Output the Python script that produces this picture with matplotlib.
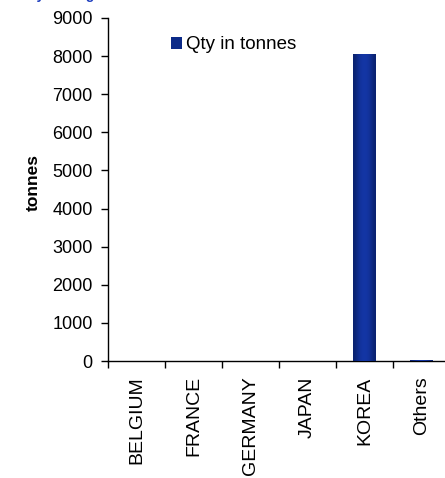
import numpy as np
import matplotlib
matplotlib.use("Agg")
import matplotlib.pyplot as plt
from matplotlib.patches import Rectangle

# data
countries = ["BELGIUM", "FRANCE", "GERMANY", "JAPAN", "KOREA", "Others"]
qty_tonnes = [12, 8, 10, 6, 8050, 15]
y_ticks = [0, 1000, 2000, 3000, 4000, 5000, 6000, 7000, 8000, 9000]

plt.rcParams['font.family'] = ['Liberation Sans', 'DejaVu Sans']

fig = plt.figure(figsize=(4.45, 4.78), dpi=100)
ax = fig.add_axes([108 / 445, 1 - 361 / 478, 342 / 445, 343 / 478])

x = np.arange(len(countries))
bw = 0.4
bars = ax.bar(x, qty_tonnes, width=bw, color='#0c2a88', label='Qty in tonnes', zorder=2)

# shaded look on the bars (dark edges, lighter middle)
grad = np.array([[0.0, 0.55, 0.9, 1.0, 0.9, 0.55, 0.0]])
cmap = matplotlib.colors.LinearSegmentedColormap.from_list('bar', ['#0a2270', '#1436a6'])
for b in bars:
    im = ax.imshow(grad, cmap=cmap, aspect='auto', interpolation='bicubic',
                   extent=[b.get_x(), b.get_x() + b.get_width(), 0, b.get_height()], zorder=3)
    im.set_clip_path(Rectangle((b.get_x(), 0), b.get_width(), b.get_height(), transform=ax.transData))

ax.set_xlim(-0.5, len(countries) - 0.5)
ax.set_ylim(0, 9000)
ax.set_yticks(y_ticks)
ax.set_xticks(x)
ax.set_xticklabels(countries, rotation=90, fontsize=14)
ax.set_xticks(np.arange(-0.5, len(countries)), minor=True)
ax.tick_params(axis='x', which='major', length=0, pad=11)
ax.tick_params(axis='x', which='minor', length=5, width=1, direction='out')
ax.tick_params(axis='y', length=5, width=1, direction='out', labelsize=13, pad=6)

for s in ['top', 'right']:
    ax.spines[s].set_visible(False)
ax.spines['left'].set_linewidth(1)
ax.spines['bottom'].set_linewidth(1)
ax.set_ylabel('tonnes', fontsize=12.5, fontweight='bold')
ax.yaxis.set_label_coords(-0.196, 0.52)

leg = ax.legend(loc='upper left', bbox_to_anchor=(0.14, 0.99), frameon=False,
                fontsize=13.5, handlelength=0.6, handleheight=0.6, handletextpad=0.2,
                borderpad=0.3)

# cropped chart title at the very top
fig.text(28 / 445, 1.0 + 1 / 478, 'by tonnage', color='#1f3fbf', fontsize=10,
         fontweight='bold', va='baseline', ha='left')

fig.savefig('out.png', dpi=100)
